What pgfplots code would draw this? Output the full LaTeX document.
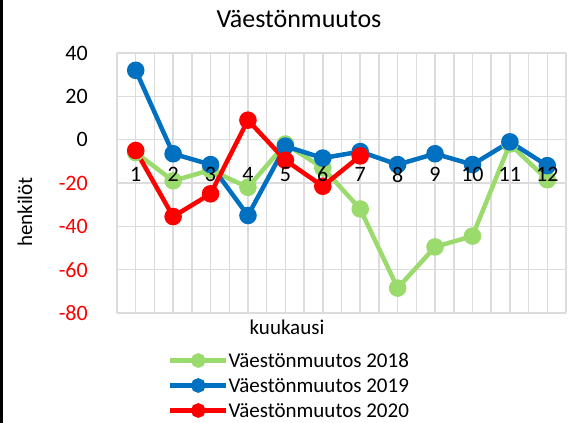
\documentclass[border=0pt]{standalone}
\usepackage{fontspec}
\setmainfont{Carlito}
\usepackage{pgfplots}
\pgfplotsset{compat=1.18}
\definecolor{g18}{HTML}{9BDB6E}
\definecolor{b19}{HTML}{0070C0}
\definecolor{r20}{HTML}{FF0000}
\definecolor{gridc}{HTML}{DCDCDC}
\pgfplotsset{common/.style={
  at={(117bp,110bp)}, anchor=south west,
  scale only axis, width=449bp, height=260bp,
  xmin=0.5, xmax=12.5, ymin=-80, ymax=40,
  axis line style={draw=none},
  tick style={draw=none},
  tick label style={font=\fontsize{22bp}{26bp}\selectfont},
  clip=false}}
\begin{document}
\begin{tikzpicture}
\useasboundingbox (0bp,0bp) rectangle (573bp,423bp);
\fill[black] (0bp,0bp) rectangle (3bp,423bp);
\begin{axis}[
  common,
  xtick={1,...,12},
  xticklabels={},
  minor xtick={0.5,1.5,...,12.5},
  ytick={-80,-60,-40,-20,0,20,40},
  yticklabels={\textcolor{red}{-80},\textcolor{red}{-60},\textcolor{red}{-40},\textcolor{red}{-20},0,20,40},
  grid=both,
  major grid style={draw=gridc, line width=1.5bp},
  minor grid style={draw=gridc, line width=1.5bp},
  yticklabel style={anchor=east, inner sep=0pt, xshift=-29bp},
  legend style={at={(0.1136,-0.15)}, anchor=north west, draw=none, fill=none,
    inner sep=0pt, outer sep=0pt,
    font=\fontsize{21bp}{25bp}\selectfont, row sep=5bp,
    nodes={inner sep=0pt, text height=15bp, text depth=5bp, anchor=base west}},
  legend cell align=left,
  /tikz/every even column/.append style={column sep=4bp},
  legend image code/.code={\draw[#1, mark repeat=2, mark phase=2, mark size=5bp] plot coordinates {(0bp,6.5bp) (28bp,6.5bp) (56bp,6.5bp)};},
]
\addplot[g18, line width=4.5bp, mark=*, mark size=6.5bp, mark options={fill=g18, draw=g18}]
  coordinates {(1,-6) (2,-19) (3,-14) (4,-22) (5,-2) (6,-13) (7,-32) (8,-68.5) (9,-49.5) (10,-44.5) (11,-2) (12,-18.5)};
\addlegendentry{Väestönmuutos 2018}
\addplot[b19, line width=4.5bp, mark=*, mark size=6.5bp, mark options={fill=b19, draw=b19}]
  coordinates {(1,32) (2,-6.5) (3,-11.5) (4,-35) (5,-3) (6,-8.5) (7,-5.5) (8,-11.5) (9,-6.5) (10,-11.5) (11,-1) (12,-12)};
\addlegendentry{Väestönmuutos 2019}
\addplot[r20, line width=4.5bp, mark=*, mark size=6.5bp, mark options={fill=r20, draw=r20}]
  coordinates {(1,-5) (2,-35.5) (3,-25) (4,9) (5,-9.5) (6,-21.5) (7,-7.5)};
\addlegendentry{Väestönmuutos 2020}
\end{axis}
\begin{axis}[
  common,
  axis x line=middle,
  axis y line=none,
  xtick={1,...,12},
  xticklabels={1,2,3,4,5,6,7,8,9,10,11,12},
  ytick=\empty,
  xticklabel style={anchor=north, inner sep=0pt, yshift=-25bp},
]
\end{axis}
\node[anchor=base, font=\fontsize{26bp}{30bp}\selectfont] at (299bp,395bp) {Väestönmuutos};
\node[anchor=base, font=\fontsize{21bp}{25bp}\selectfont] at (287bp,88bp) {kuukausi};
\node[anchor=base, rotate=90, font=\fontsize{21bp}{25bp}\selectfont] at (32bp,211bp) {henkilöt};
\end{tikzpicture}
\end{document}
